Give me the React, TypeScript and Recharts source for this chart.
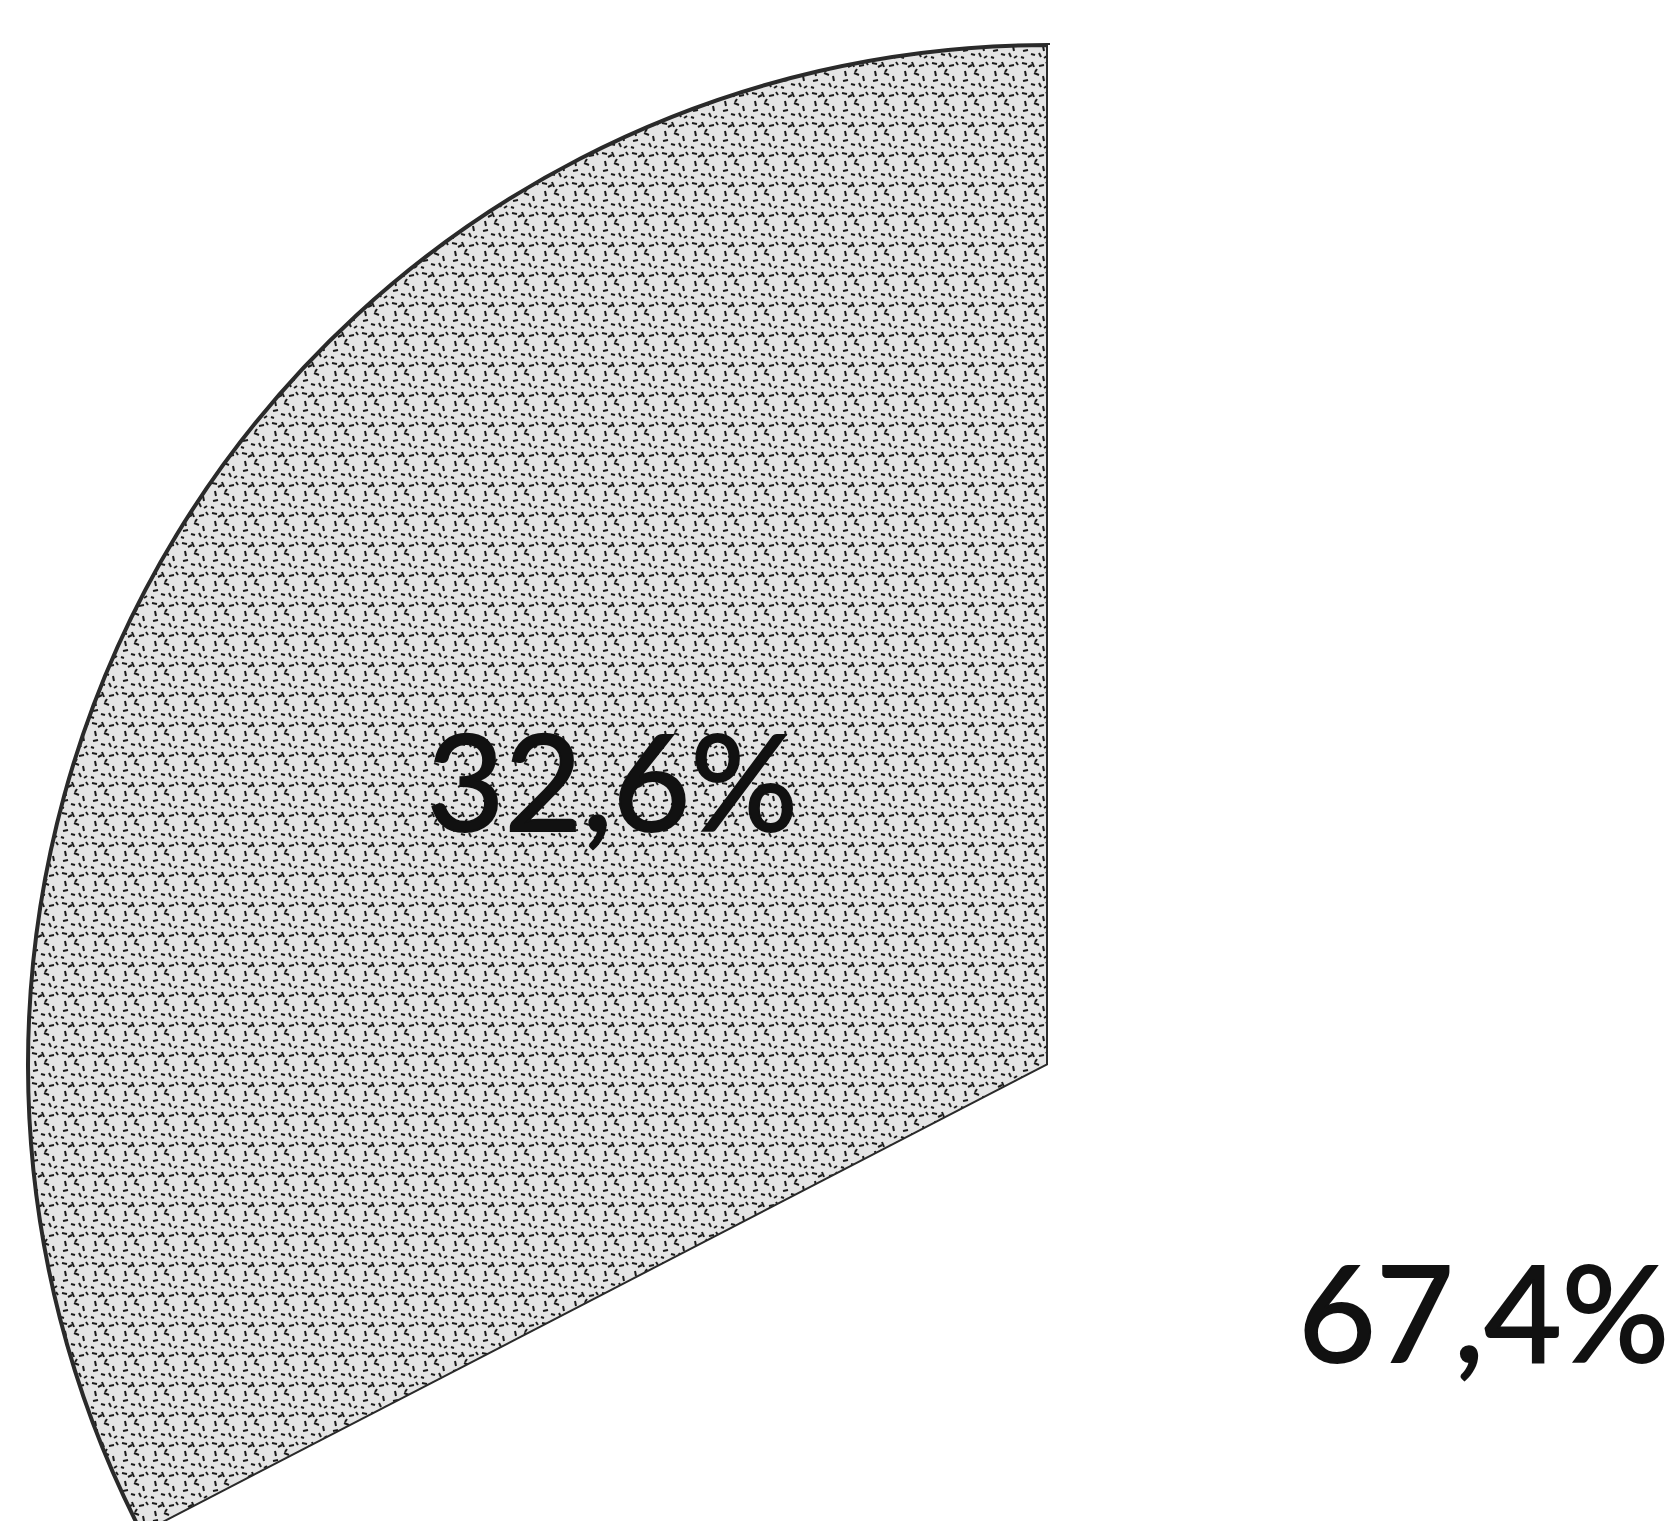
import { Cell, Pie, PieChart } from "recharts"

const slices = ["Anteil A", "Anteil B"]
const shares = [32.6, 67.4]
const shareLabels = ["32,6%", "67,4%"]

const data = slices.map((name, i) => ({ name, value: shares[i], label: shareLabels[i] }))

const RAD = Math.PI / 180

// short dark flecks for the scanned-print look of the shaded slice
const flecks = [
  "M2 3 l5 1", "M12 2 l2 5", "M19 6 l5 -1", "M5 11 l1 5", "M14 13 l5 2",
  "M23 16 l1 5", "M3 21 l5 -1", "M11 24 l4 1", "M19 23 l2 4", "M8 7 l4 -2",
  "M26 2 l2 3", "M17 9 l-2 3", "M27 26 l-3 2", "M1 27 l3 1",
]

function renderLabel(props: any) {
  const { cx, cy, midAngle, outerRadius, index } = props
  const r = outerRadius * 0.5
  const x = cx + r * Math.cos(-midAngle * RAD)
  const y = cy + r * Math.sin(-midAngle * RAD)
  return (
    <text
      x={x}
      y={y - 20}
      textAnchor="middle"
      dominantBaseline="central"
      fill="#111"
      stroke="#111"
      strokeWidth={2}
      fontSize={134}
      fontFamily="Lato, sans-serif"
    >
      {data[index].label}
    </text>
  )
}

export default function App() {
  return (
    <div style={{ position: "absolute", left: 0, top: 0, width: 1671, height: 1521, background: "#fff" }}>
      <PieChart width={1671} height={1521} margin={{ top: 0, right: 0, bottom: 0, left: 0 }}>
        <defs>
          <pattern id="grain" width="30" height="30" patternUnits="userSpaceOnUse">
            <rect width="30" height="30" fill="#e4e4e4" />
            {flecks.map((d) => (
              <path key={d} d={d} stroke="#1a1a1a" strokeWidth={2} fill="none" />
            ))}
          </pattern>
        </defs>
        <Pie
          data={data}
          dataKey="value"
          nameKey="name"
          cx={1048}
          cy={1065}
          outerRadius={1020}
          startAngle={90}
          endAngle={450}
          label={renderLabel}
          labelLine={false}
          isAnimationActive={false}
        >
          <Cell fill="url(#grain)" stroke="#2a2a2a" strokeWidth={4} />
          <Cell fill="#fff" stroke="none" />
        </Pie>
      </PieChart>
    </div>
  )
}
